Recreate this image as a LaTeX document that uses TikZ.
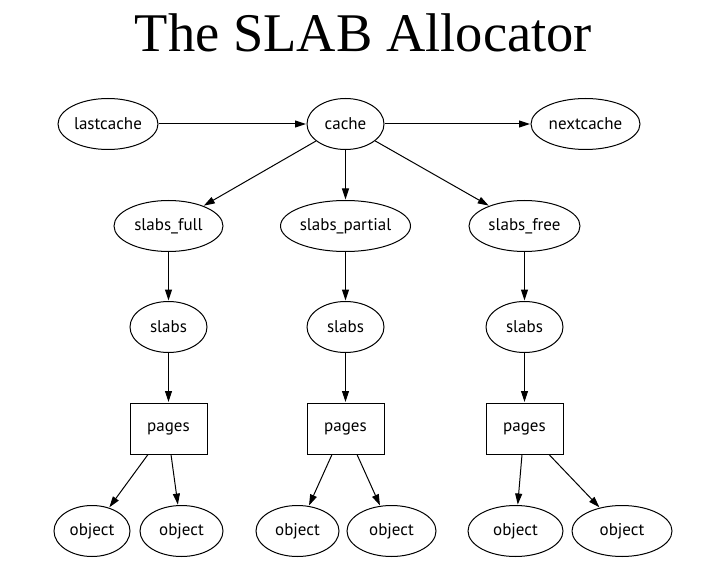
\documentclass[tikz,border=0pt]{standalone}
\usepackage{fontspec}
\setmainfont{Liberation Serif}
\newfontfamily\nodefont{PT Sans}
\usetikzlibrary{arrows.meta,shapes.geometric}
\tikzset{
  lbl/.style={font=\nodefont\fontsize{17}{20}\selectfont, inner sep=0pt, line width=1pt},
  ell/.style={lbl, draw, ellipse, minimum height=51pt},
  box/.style={lbl, draw, rectangle, minimum width=77pt, minimum height=51pt},
  conn/.style={-{Triangle[length=11pt,width=7pt]}, line width=1pt, shorten >=0.5pt}
}
\begin{document}
\begin{tikzpicture}[x=1pt,y=-1pt]
\useasboundingbox (0,0) rectangle (711,569);
\node[anchor=base, font=\fontsize{54.5}{60}\selectfont] (title) at (363.5,52) {The SLAB Allocator};

\node[ell, minimum width=100pt] (last) at (108,124) {lastcache};
\node[ell, minimum width=77pt] (cache) at (345.5,124) {cache};
\node[ell, minimum width=109pt] (next) at (585.5,124) {nextcache};

\node[ell, minimum width=109pt] (sf) at (168.5,226) {slabs\_full};
\node[ell, minimum width=130pt] (sp) at (345.5,226) {slabs\_partial};
\node[ell, minimum width=111pt] (sr) at (524.5,226) {slabs\_free};

\node[ell, minimum width=77pt] (s1) at (168.5,327) {slabs};
\node[ell, minimum width=77pt] (s2) at (345.5,327) {slabs};
\node[ell, minimum width=77pt] (s3) at (524.5,327) {slabs};

\node[box] (p1) at (168.5,428.5) {pages};
\node[box] (p2) at (345.5,428.5) {pages};
\node[box] (p3) at (524.5,428.5) {pages};

\node[ell, minimum width=76pt] (o1) at (92,531) {object};
\node[ell, minimum width=83pt] (o2) at (181.5,531) {object};
\node[ell, minimum width=83pt] (o3) at (297.5,531) {object};
\node[ell, minimum width=89pt] (o4) at (391.5,531) {object};
\node[ell, minimum width=95pt] (o5) at (515.5,531) {object};
\node[ell, minimum width=100pt] (o6) at (622,531) {object};

\draw[conn] (last) -- (cache);
\draw[conn] (cache) -- (next);
\draw[conn] (cache) -- (sf);
\draw[conn] (cache) -- (sp);
\draw[conn] (cache) -- (sr);
\draw[conn] (sf) -- (s1);
\draw[conn] (sp) -- (s2);
\draw[conn] (sr) -- (s3);
\draw[conn] (s1) -- (p1);
\draw[conn] (s2) -- (p2);
\draw[conn] (s3) -- (p3);
\draw[conn] ([xshift=-20.5pt]p1.south) -- (o1);
\draw[conn] ([xshift=2.5pt]p1.south) -- (o2);
\draw[conn] ([xshift=-13.5pt]p2.south) -- (o3);
\draw[conn] ([xshift=11.5pt]p2.south) -- (o4);
\draw[conn] ([xshift=-2.5pt]p3.south) -- (o5);
\draw[conn] ([xshift=24.5pt]p3.south) -- (o6);
\end{tikzpicture}
\end{document}
